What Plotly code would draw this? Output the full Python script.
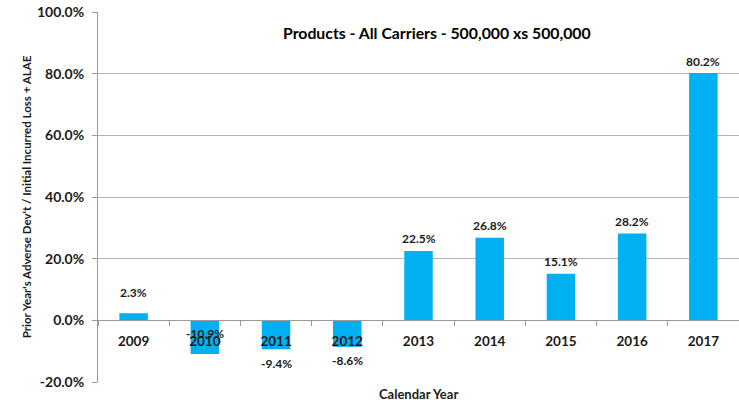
import plotly.graph_objects as go

# Calendar years and prior-year adverse development ratios (%)
years = ["2009", "2010", "2011", "2012", "2013", "2014", "2015", "2016", "2017"]
adverse_dev_pct = [2.3, -10.9, -9.4, -8.6, 22.5, 26.8, 15.1, 28.2, 80.2]
y_ticks = [-20, 0, 20, 40, 60, 80, 100]

TITLE = "Products - All Carriers - 500,000 xs 500,000"
Y_TITLE = "Prior Year's Adverse Dev't / Initial Incurred Loss + ALAE"
X_TITLE = "Calendar Year"

BAR_COLOR = "#00B0F0"
GRID_COLOR = "#b4b4b4"
AXIS_COLOR = "#9a9a9a"
TEXT_COLOR = "#1a1a1a"
FONT = "Lato"

y_min, y_max = -20, 100

fig = go.Figure()
fig.add_trace(go.Bar(
    x=years,
    y=adverse_dev_pct,
    marker=dict(color=BAR_COLOR, line=dict(width=0)),
    width=0.4,
    hoverinfo="x+y",
))

# Value labels: above positive bars, below negative bars, with a couple of
# hand-placed exceptions the way the labels were nudged in the workbook.
label_shift = {"2009": 21}
label_at_base = {"2010"}
for i, (yr, v) in enumerate(zip(years, adverse_dev_pct)):
    if yr in label_at_base:
        y_ref, shift = 0, -13
    elif v >= 0:
        y_ref, shift = v, label_shift.get(yr, 12)
    else:
        y_ref, shift = v, -label_shift.get(yr, 14)
    fig.add_annotation(
        xref="x", yref="y",
        x=i, y=y_ref, yshift=shift,
        text=f"<b>{v:.1f}%</b>",
        showarrow=False,
        xanchor="center", yanchor="middle",
        font=dict(family=FONT, size=12, color=TEXT_COLOR),
    )

# Chart title, centred a little left of the plot middle
fig.add_annotation(
    xref="paper", yref="paper",
    x=(437 - 98) / (739 - 98), y=1 - (33 - 12) / 370,
    text=f"<b>{TITLE}</b>", showarrow=False,
    xanchor="center", yanchor="middle",
    font=dict(family=FONT, size=15.8, color="#000000"),
)

# x-axis title sits below the plot frame
fig.add_annotation(
    xref="paper", yref="paper", x=0.5, y=0, yshift=-12,
    text=f"<b>{X_TITLE}</b>", showarrow=False,
    xanchor="center", yanchor="middle",
    font=dict(family=FONT, size=13, color=TEXT_COLOR),
)

zero_pos = (0 - y_min) / (y_max - y_min)

fig.update_layout(
    width=739, height=402,
    margin=dict(l=98, r=0, t=12, b=20),
    paper_bgcolor="white",
    plot_bgcolor="white",
    showlegend=False,
    xaxis=dict(
        type="category",
        range=[-0.5, len(years) - 0.5],
        anchor="free",
        position=zero_pos,
        showline=True, linecolor=AXIS_COLOR, linewidth=1,
        ticks="outside", tickson="boundaries", ticklen=5, tickcolor=AXIS_COLOR,
        ticklabelstandoff=8,
        showgrid=False, zeroline=False,
        tickfont=dict(family=FONT, size=13.5, color=TEXT_COLOR, weight="bold"),
        fixedrange=True,
    ),
    yaxis=dict(
        range=[y_min, y_max],
        tickvals=y_ticks,
        ticktext=[f"{t:.1f}%" for t in y_ticks],
        showline=True, linecolor=AXIS_COLOR, linewidth=1,
        ticks="outside", ticklen=5, tickcolor=AXIS_COLOR,
        ticklabelstandoff=5,
        showgrid=True, gridcolor=GRID_COLOR, gridwidth=1,
        zeroline=False,
        tickfont=dict(family=FONT, size=14, color=TEXT_COLOR, weight="bold"),
        title=dict(text=Y_TITLE, standoff=2,
                   font=dict(family=FONT, size=11.5, color=TEXT_COLOR, weight="bold")),
        fixedrange=True,
    ),
)

fig.write_html("out.html")
